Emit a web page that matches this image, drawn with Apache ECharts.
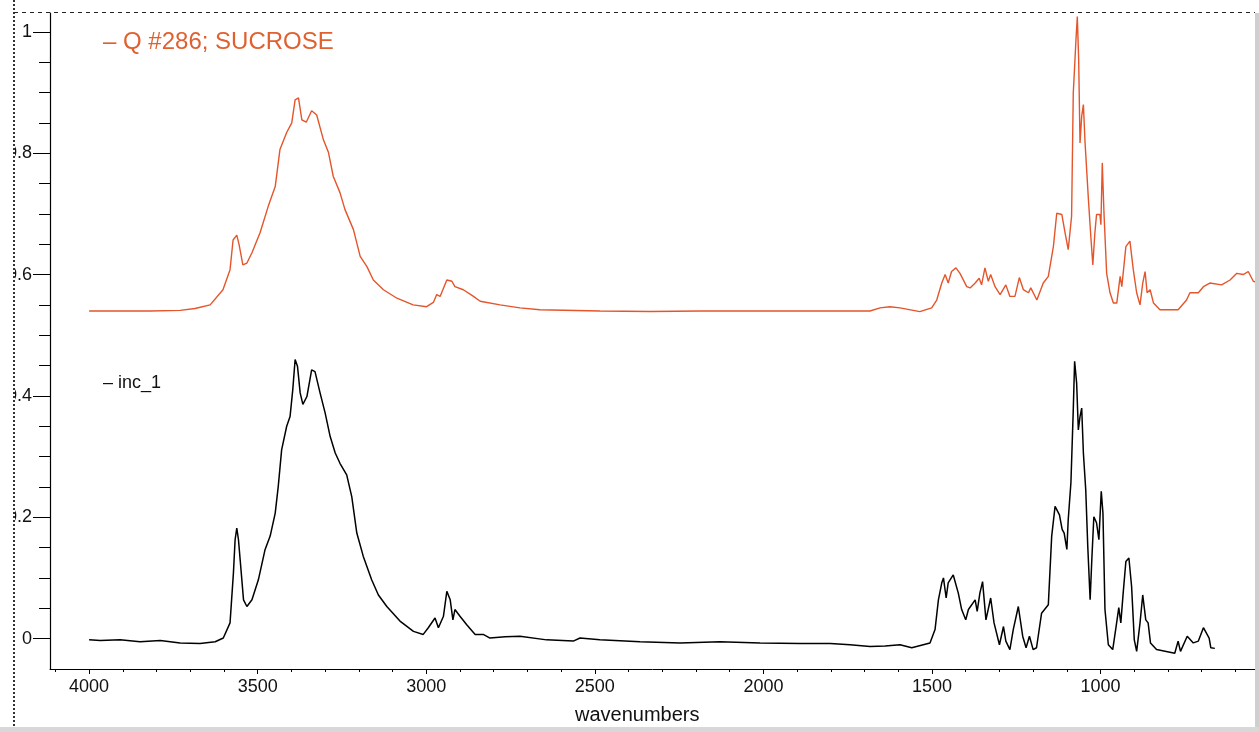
<!DOCTYPE html>
<html>
<head>
<meta charset="utf-8">
<script src="https://cdn.jsdelivr.net/npm/echarts@6/dist/echarts.min.js"></script>
<style>
  html, body { margin: 0; padding: 0; background: #fff; width: 1259px; height: 732px; overflow: hidden; position: relative; }
  #chart { position: absolute; left: 15px; top: 0; width: 1244px; height: 732px; }
  #leftDots { position: absolute; left: 13px; top: 0; width: 2px; height: 726px;
    background: repeating-linear-gradient(to bottom, #333 0 2px, transparent 2px 4px); }
  #topDash { position: absolute; left: 14px; top: 12px; width: 1241px; height: 1px;
    background: repeating-linear-gradient(to right, #222 0 4px, transparent 4px 8px); z-index: 2; }
  #rightBar { position: absolute; left: 1255px; top: 13px; width: 4px; height: 719px; background: #cfcfcf; }
  #bottomBar { position: absolute; left: 0; top: 727px; width: 1259px; height: 5px; background: #d8d8d8; }
</style>
</head>
<body>
<div id="chart"></div>
<div id="leftDots"></div>
<div id="topDash"></div>
<div id="rightBar"></div>
<div id="bottomBar"></div>
<script>
// ---- Data ----
const sucroseWavenumber = [4000,3819,3730,3686,3641,3603,3582,3573,3562,3555,3544,3532,3517,3493,3469,3448,3434,3414,3399,3389,3379,3369,3356,3340,3325,3305,3290,3276,3256,3241,3216,3196,3176,3157,3127,3087,3039,2999,2979,2969,2959,2939,2924,2915,2890,2860,2840,2781,2722,2663,2485,2336,2188,2010,1832,1684,1654,1625,1595,1536,1501,1486,1471,1461,1452,1442,1429,1417,1397,1387,1372,1360,1353,1343,1333,1326,1313,1298,1281,1269,1254,1241,1229,1214,1207,1189,1170,1155,1140,1130,1115,1105,1096,1086,1081,1073,1069,1065,1061,1056,1051,1046,1036,1029,1023,1017,1012,1002,999,995,990,982,972,962,952,942,937,925,913,903,893,883,875,868,862,853,843,824,770,745,735,710,695,676,641,616,596,577,562,547,542];
const sucroseAbsorbance = [0.540,0.540,0.541,0.544,0.550,0.575,0.608,0.657,0.665,0.649,0.616,0.619,0.636,0.669,0.712,0.745,0.806,0.834,0.850,0.888,0.891,0.855,0.851,0.870,0.863,0.822,0.801,0.762,0.735,0.707,0.674,0.630,0.613,0.591,0.575,0.561,0.550,0.547,0.554,0.567,0.564,0.591,0.589,0.580,0.575,0.564,0.556,0.550,0.545,0.542,0.540,0.539,0.540,0.540,0.540,0.540,0.545,0.547,0.545,0.539,0.545,0.558,0.586,0.600,0.586,0.605,0.611,0.602,0.580,0.578,0.586,0.594,0.583,0.611,0.589,0.600,0.580,0.567,0.583,0.564,0.564,0.595,0.575,0.570,0.578,0.558,0.586,0.597,0.646,0.701,0.699,0.668,0.641,0.696,0.899,0.987,1.025,0.954,0.817,0.861,0.880,0.817,0.723,0.663,0.616,0.668,0.699,0.699,0.682,0.784,0.702,0.602,0.570,0.553,0.553,0.597,0.580,0.646,0.655,0.608,0.570,0.550,0.586,0.605,0.570,0.575,0.553,0.542,0.542,0.558,0.570,0.570,0.580,0.586,0.583,0.591,0.602,0.600,0.605,0.589,0.588];

const inc1Wavenumber = [4000,3967,3908,3849,3789,3730,3671,3626,3602,3582,3572,3567,3562,3557,3552,3542,3532,3517,3498,3478,3463,3448,3439,3429,3414,3404,3396,3389,3382,3374,3366,3354,3340,3330,3315,3300,3285,3270,3256,3236,3221,3206,3187,3162,3142,3117,3078,3038,3009,2994,2974,2964,2949,2939,2929,2921,2915,2900,2880,2855,2831,2811,2766,2722,2643,2564,2544,2485,2366,2247,2129,2010,1891,1802,1743,1684,1639,1595,1560,1506,1491,1481,1471,1466,1458,1452,1437,1422,1412,1400,1392,1372,1366,1358,1350,1340,1326,1316,1300,1288,1281,1269,1259,1244,1231,1221,1211,1200,1190,1175,1155,1145,1135,1122,1114,1108,1100,1096,1088,1081,1077,1071,1066,1061,1056,1051,1044,1038,1031,1026,1020,1012,1005,998,993,987,977,964,954,946,940,933,925,916,908,900,893,883,875,866,859,852,834,780,770,763,743,725,710,695,678,673,661];
const inc1Absorbance = [-0.002,-0.003,-0.002,-0.005,-0.003,-0.007,-0.008,-0.005,0.001,0.026,0.108,0.163,0.182,0.163,0.130,0.064,0.053,0.064,0.097,0.147,0.169,0.207,0.251,0.311,0.350,0.366,0.410,0.460,0.449,0.405,0.386,0.399,0.443,0.440,0.405,0.372,0.333,0.306,0.289,0.270,0.234,0.174,0.136,0.097,0.072,0.053,0.029,0.012,0.007,0.018,0.034,0.018,0.037,0.078,0.064,0.031,0.048,0.037,0.023,0.007,0.007,0.001,0.003,0.004,-0.002,-0.004,0.001,-0.002,-0.005,-0.007,-0.005,-0.007,-0.008,-0.008,-0.010,-0.013,-0.012,-0.010,-0.015,-0.007,0.015,0.064,0.092,0.100,0.067,0.092,0.105,0.075,0.048,0.031,0.048,0.064,0.045,0.075,0.094,0.031,0.067,0.026,-0.010,0.020,-0.004,-0.018,0.015,0.053,0.004,-0.015,0.004,-0.018,-0.015,0.042,0.056,0.169,0.218,0.204,0.180,0.174,0.147,0.196,0.257,0.377,0.457,0.421,0.344,0.366,0.380,0.306,0.245,0.152,0.064,0.130,0.201,0.191,0.163,0.243,0.207,0.048,-0.010,-0.018,0.020,0.051,0.026,0.075,0.127,0.133,0.086,-0.002,-0.021,0.026,0.072,0.031,0.026,-0.007,-0.018,-0.024,-0.004,-0.021,0.004,-0.007,-0.004,0.018,0.001,-0.015,-0.016];

const xMajorTicks = [4000, 3500, 3000, 2500, 2000, 1500, 1000];
const xMinorTicks = [4100,3900,3800,3700,3600,3400,3300,3200,3100,2900,2800,2700,2600,2400,2300,2200,2100,1900,1800,1700,1600,1400,1300,1200,1100,900,800,700,600];
const yMajorTicks = [0, 0.2, 0.4, 0.6, 0.8, 1];
const yMinorTicks = [0.05,0.1,0.15,0.25,0.3,0.35,0.45,0.5,0.55,0.65,0.7,0.75,0.85,0.9,0.95];

const seriesNames = ['Q #286; SUCROSE', 'inc_1'];
const xAxisTitle = 'wavenumbers';

// ---- Build ----
function zip(xs, ys) { return xs.map((x, i) => [x, ys[i]]); }

const X_MIN = 542, X_MAX = 4116, Y_MIN = -0.05, Y_MAX = 1.031;
const font = 'Arial, "Liberation Sans", sans-serif';

const chart = echarts.init(document.getElementById('chart'), null, { renderer: 'canvas' });
chart.setOption({
  animation: false,
  backgroundColor: 'transparent',
  grid: { left: 35, right: 4, top: 13, bottom: 63, containLabel: false, outerBoundsMode: 'none' },
  xAxis: [
    {
      type: 'value', inverse: true, min: X_MIN, max: X_MAX, position: 'bottom',
      axisLine: { show: true, onZero: false, lineStyle: { color: '#000', width: 1 } },
      axisTick: { show: true, customValues: xMajorTicks, length: 5, lineStyle: { color: '#000' } },
      axisLabel: { show: true, customValues: xMajorTicks, margin: 9, fontSize: 18, color: '#111', fontFamily: font,
                   formatter: v => String(v) },
      splitLine: { show: false }
    },
    {
      type: 'value', inverse: true, min: X_MIN, max: X_MAX, position: 'bottom', offset: 0,
      axisLine: { show: false, onZero: false },
      axisTick: { show: true, customValues: xMinorTicks, length: 3, lineStyle: { color: '#000' } },
      axisLabel: { show: false },
      splitLine: { show: false }
    }
  ],
  yAxis: [
    {
      type: 'value', min: Y_MIN, max: Y_MAX, position: 'left',
      axisLine: { show: true, onZero: false, lineStyle: { color: '#000', width: 1.2 } },
      axisTick: { show: true, customValues: yMajorTicks, length: 17, lineStyle: { color: '#000' } },
      axisLabel: { show: true, customValues: yMajorTicks, margin: 18, fontSize: 18, color: '#111', fontFamily: font,
                   formatter: v => String(v) },
      splitLine: { show: false }
    },
    {
      type: 'value', min: Y_MIN, max: Y_MAX, position: 'left', offset: 0,
      axisLine: { show: false, onZero: false },
      axisTick: { show: true, customValues: yMinorTicks, length: 11, lineStyle: { color: '#000' } },
      axisLabel: { show: false },
      splitLine: { show: false }
    }
  ],
  graphic: [
    { type: 'text', left: 88, top: 30, style: { text: '– ' + seriesNames[0], fill: '#e0612f', font: '24px ' + font } },
    { type: 'text', left: 88, top: 374, style: { text: '– ' + seriesNames[1], fill: '#111', font: '18px ' + font } },
    { type: 'text', left: 560, top: 705, style: { text: xAxisTitle, fill: '#111', font: '20px ' + font } }
  ],
  series: [
    {
      name: seriesNames[0], type: 'line', xAxisIndex: 0, yAxisIndex: 0,
      data: zip(sucroseWavenumber, sucroseAbsorbance),
      showSymbol: false, symbol: 'none', smooth: false,
      lineStyle: { color: '#e4552b', width: 1.4 }
    },
    {
      name: seriesNames[1], type: 'line', xAxisIndex: 0, yAxisIndex: 0,
      data: zip(inc1Wavenumber, inc1Absorbance),
      showSymbol: false, symbol: 'none', smooth: false,
      lineStyle: { color: '#000', width: 1.5 }
    }
  ]
});
</script>
</body>
</html>
